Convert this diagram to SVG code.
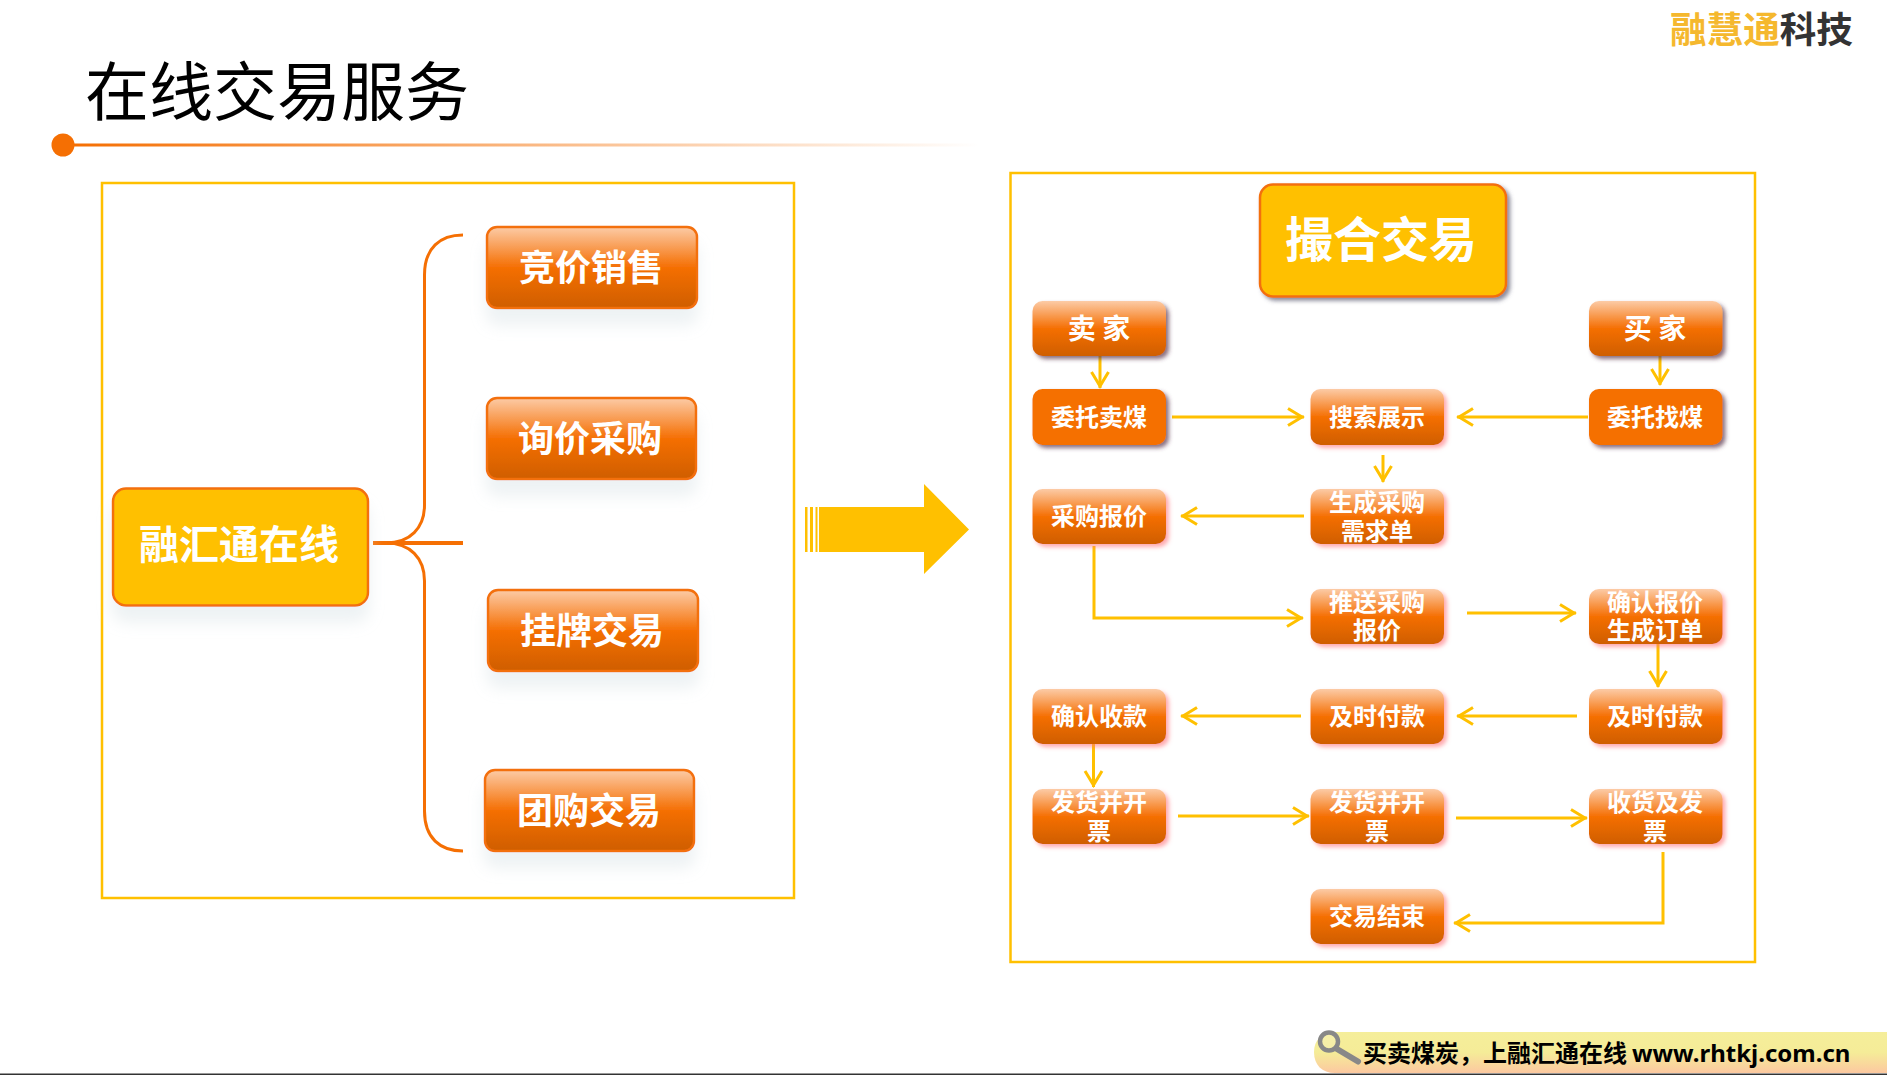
<svg xmlns="http://www.w3.org/2000/svg" width="1887" height="1075" viewBox="0 0 1887 1075">
<style>
text{font-family:"Noto Sans CJK SC","Noto Sans",sans-serif;text-anchor:middle;fill:#fff;font-weight:700}
.frame{fill:none;stroke:#FFC000;stroke-width:2.5}
.lg{fill:url(#nodeGrad);stroke:#F36F0E;stroke-width:2.5;filter:url(#softShadow)}
.main{fill:#FFC000;stroke:#F36F0E;stroke-width:2.5}
.sm{fill:url(#nodeGrad);filter:url(#pinkShadow)}
.smd{fill:url(#nodeGrad);filter:url(#darkShadow)}
.solid{fill:#F56F03;filter:url(#darkShadow)}
.t36{font-size:36px}
.t24{font-size:24px}
.t28{font-size:28px}
.conn{fill:none;stroke:#FFC000;stroke-width:3;marker-end:url(#open)}
.brace{fill:none;stroke:#F56F03;stroke-width:3}
</style>
<defs>
<linearGradient id="nodeGrad" x1="0" y1="0" x2="0" y2="1">
<stop offset="0" stop-color="#FCCBA6"/><stop offset="0.5" stop-color="#F56F03"/><stop offset="1" stop-color="#CF5E04"/>
</linearGradient>
<linearGradient id="ruleGrad" x1="0" y1="0" x2="1" y2="0">
<stop offset="0" stop-color="#F56F03"/><stop offset="1" stop-color="#F56F03" stop-opacity="0"/>
</linearGradient>
<linearGradient id="footGrad" x1="0" y1="0" x2="0" y2="1">
<stop offset="0" stop-color="#F5EE9A"/><stop offset="0.5" stop-color="#F5EC98"/><stop offset="1" stop-color="#FCC8A0"/>
</linearGradient>
<filter id="softShadow" x="-15%" y="-15%" width="130%" height="180%">
<feDropShadow dx="0" dy="16" stdDeviation="8" flood-color="#D5E0E4" flood-opacity="0.42"/>
</filter>
<filter id="pinkShadow" x="-10%" y="-15%" width="125%" height="140%">
<feDropShadow dx="3" dy="3" stdDeviation="2" flood-color="#FF6F78" flood-opacity="0.6"/>
</filter>
<filter id="darkShadow" x="-10%" y="-15%" width="125%" height="140%">
<feDropShadow dx="3" dy="3" stdDeviation="2" flood-color="#5A3048" flood-opacity="0.7"/>
</filter>
<filter id="greyShadow" x="-10%" y="-10%" width="125%" height="125%">
<feDropShadow dx="3" dy="3" stdDeviation="2" flood-color="#5A5A70" flood-opacity="0.7"/>
</filter>
<marker id="open" markerUnits="userSpaceOnUse" markerWidth="22" markerHeight="22" refX="19" refY="10" orient="auto">
<path d="M3 1.500L17 10L3 18.500" fill="none" stroke="#FFC000" stroke-width="3"/>
</marker>
</defs>
<rect width="1887" height="1075" fill="#fff"/>

<g id="header">
<text x="277" y="115" style="font-size:64px;font-weight:400;fill:#000">在线交易服务</text>
<circle cx="63" cy="145" r="11.5" fill="#F56F03"/>
<rect x="74" y="143.500" width="906" height="3" fill="url(#ruleGrad)"/>
<text x="1670" y="43" style="font-size:36.600px;text-anchor:start;fill:#F5B82E">融慧通<tspan fill="#333">科技</tspan></text>
</g>

<g id="frames">
<rect class="frame" x="102" y="183" width="692" height="715"/>
<rect class="frame" x="1010.500" y="173" width="744.500" height="789"/>
</g>

<g id="connectors">
<path class="brace" d="M463 235C440 235 424.500 248 424.500 275V505C424.500 528 410 543 386 543"/>
<path class="brace" d="M463 851C440 851 424.500 838 424.500 811V581C424.500 558 410 543 386 543"/>
<path class="brace" d="M373 543H463" style="stroke-width:4"/>
<path class="conn" d="M1100 356V388"/>
<path class="conn" d="M1172 417H1304"/>
<path class="conn" d="M1588 417H1457"/>
<path class="conn" d="M1660 353V385"/>
<path class="conn" d="M1383 455V482"/>
<path class="conn" d="M1304 516H1181"/>
<path class="conn" d="M1094 546V618H1303"/>
<path class="conn" d="M1467 613H1576"/>
<path class="conn" d="M1658 644V687"/>
<path class="conn" d="M1577 716H1457"/>
<path class="conn" d="M1301 716H1181"/>
<path class="conn" d="M1093.500 744V787"/>
<path class="conn" d="M1178 816H1309"/>
<path class="conn" d="M1456 818H1587"/>
<path class="conn" d="M1663 852V923H1454"/>
</g>

<g id="bigArrow" fill="#FFC000">
<path d="M819 507H924V484L969 529.500L924 574V552H819Z"/>
<rect x="805" y="507" width="2.500" height="45"/>
<rect x="810" y="507" width="3" height="45"/>
<rect x="815.500" y="507" width="2" height="45"/>
</g>

<g id="n-rhtzx"><rect class="main" x="113" y="488.500" width="255" height="117" rx="13" filter="url(#softShadow)"/><text style="font-size:40px" x="239" y="559">融汇通在线</text></g>
<g id="n-jjxs"><rect class="lg" x="487" y="227" width="210" height="81" rx="10"/><text class="t36" x="591" y="281">竞价销售</text></g>
<g id="n-xjcg"><rect class="lg" x="487" y="398" width="209" height="81" rx="10"/><text class="t36" x="590" y="452">询价采购</text></g>
<g id="n-gpjy"><rect class="lg" x="488" y="590" width="210" height="81" rx="10"/><text class="t36" x="592" y="644">挂牌交易</text></g>
<g id="n-tgjy"><rect class="lg" x="485" y="770" width="209" height="81" rx="10"/><text class="t36" x="589" y="824">团购交易</text></g>

<g id="n-chjy"><rect class="main" x="1260" y="184.500" width="246" height="112" rx="13" filter="url(#greyShadow)"/><text style="font-size:48px" x="1381" y="257">撮合交易</text></g>

<g id="n-seller"><rect class="smd" x="1032.500" y="301" width="133.500" height="55" rx="10"/><text class="t28" x="1099" y="339">卖 家</text></g>
<g id="n-buyer"><rect class="smd" x="1589" y="301" width="133.500" height="55" rx="10"/><text class="t28" x="1655" y="339">买 家</text></g>
<g id="n-wtmm"><rect class="solid" x="1032.500" y="389" width="133.500" height="56" rx="10"/><text class="t24" x="1099" y="426">委托卖煤</text></g>
<g id="n-wtzm"><rect class="solid" x="1589" y="389" width="133.500" height="56" rx="10"/><text class="t24" x="1655" y="426">委托找煤</text></g>
<g id="n-sszs"><rect class="sm" x="1310.500" y="389" width="133.500" height="56" rx="10"/><text class="t24" x="1377" y="426">搜索展示</text></g>
<g id="n-cgbj"><rect class="sm" x="1032.500" y="489" width="133.500" height="55" rx="10"/><text class="t24" x="1099" y="525">采购报价</text></g>
<g id="n-scxq"><rect class="sm" x="1310.500" y="489" width="133.500" height="55" rx="10"/><text class="t24" x="1377" y="511">生成采购</text><text class="t24" x="1377" y="539.500">需求单</text></g>
<g id="n-tscg"><rect class="sm" x="1310.500" y="589" width="133.500" height="55" rx="10"/><text class="t24" x="1377" y="610.500">推送采购</text><text class="t24" x="1377" y="639">报价</text></g>
<g id="n-qrbj"><rect class="sm" x="1589" y="589" width="133.500" height="55" rx="10"/><text class="t24" x="1655" y="610.500">确认报价</text><text class="t24" x="1655" y="639">生成订单</text></g>
<g id="n-qrsk"><rect class="sm" x="1032.500" y="689" width="133.500" height="55" rx="10"/><text class="t24" x="1099" y="725">确认收款</text></g>
<g id="n-jsfk1"><rect class="sm" x="1310.500" y="689" width="133.500" height="55" rx="10"/><text class="t24" x="1377" y="725">及时付款</text></g>
<g id="n-jsfk2"><rect class="sm" x="1589" y="689" width="133.500" height="55" rx="10"/><text class="t24" x="1655" y="725">及时付款</text></g>
<g id="n-fh1"><rect class="sm" x="1032.500" y="789" width="133.500" height="55" rx="10"/><text class="t24" x="1099" y="811">发货并开</text><text class="t24" x="1099" y="839.500">票</text></g>
<g id="n-fh2"><rect class="sm" x="1310.500" y="789" width="133.500" height="55" rx="10"/><text class="t24" x="1377" y="811">发货并开</text><text class="t24" x="1377" y="839.500">票</text></g>
<g id="n-sh"><rect class="sm" x="1589" y="789" width="133.500" height="55" rx="10"/><text class="t24" x="1655" y="811">收货及发</text><text class="t24" x="1655" y="839.500">票</text></g>
<g id="n-end"><rect class="sm" x="1310.500" y="889" width="133.500" height="55" rx="10"/><text class="t24" x="1377" y="925">交易结束</text></g>

<g id="footer">
<path d="M1887 1032H1335C1322 1032 1314 1040 1314 1052C1314 1065 1322 1073 1335 1073H1887Z" fill="url(#footGrad)"/>
<rect x="0" y="1073.500" width="1887" height="1.500" fill="#333"/>
<circle cx="1329" cy="1041.500" r="9" fill="#fff" fill-opacity="0.15" stroke="#888" stroke-width="4.500"/>
<path d="M1337 1049L1358 1061.500" stroke="#888" stroke-width="6" stroke-linecap="round"/>
<text x="1363" y="1062" style="font-size:24px;text-anchor:start;fill:#000">买卖煤炭，上融汇通在线<tspan style="font-family:'Noto Sans',sans-serif" dx="5">www.rhtkj.com.cn</tspan></text>
</g>
</svg>
